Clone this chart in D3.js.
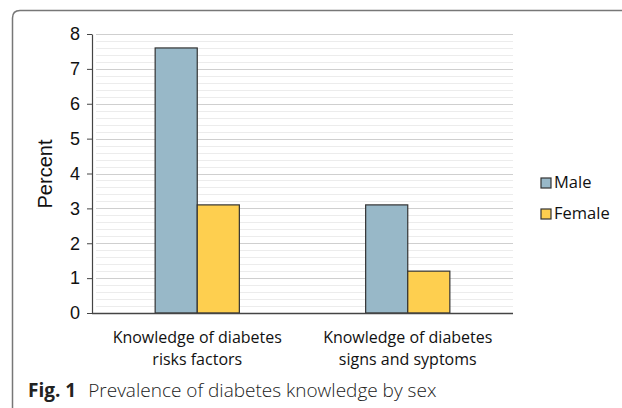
<!DOCTYPE html>
<html lang="en">
<head>
<meta charset="utf-8">
<style>
  body { margin: 0; background: #fff; }
  svg { display: block; }
</style>
</head>
<body>
<script src="https://cdn.jsdelivr.net/npm/d3@7/dist/d3.min.js"></script>
<script>

var categories = ["Knowledge of diabetes|risks factors", "Knowledge of diabetes|signs and syptoms"];
var seriesNames = ["Male", "Female"];
var maleValues = [7.6, 3.1];
var femaleValues = [3.1, 1.2];
var yTicks = [0, 1, 2, 3, 4, 5, 6, 7, 8];
var seriesColors = ["#98b8c8", "#fecf4f"];

var margin = {top: 34, right: 109, bottom: 95, left: 92},
  width = 622 - margin.left - margin.right,
  height = 408 - margin.top - margin.bottom;

var svg = d3.select("body").append("svg")
  .attr("width", 622)
  .attr("height", 408);

// frame with rounded top-left corner
svg.append("path")
  .attr("d", "M12.5,420 L12.5,18 Q12.5,10.5 20,10.5 L640,10.5")
  .attr("fill", "none")
  .attr("stroke", "#777")
  .attr("stroke-width", 1.5);

var g = svg.append("g")
  .attr("transform", "translate(" + margin.left + "," + margin.top + ")");

var x0 = d3.scaleBand()
  .domain(categories)
  .range([0, width])
  .paddingInner(0.6)
  .paddingOuter(0.3);

var x1 = d3.scaleBand()
  .domain(seriesNames)
  .range([0, x0.bandwidth()]);

var y = d3.scaleLinear().domain([0, 8]).range([height, 0]);

var color = d3.scaleOrdinal().domain(seriesNames).range(seriesColors);

// minor gridlines
g.append("g")
  .selectAll("line")
  .data(d3.range(0, 8.01, 0.2))
  .enter().append("line")
  .attr("x1", 4).attr("x2", width)
  .attr("y1", function(d) { return Math.round(y(d)) + 0.5; })
  .attr("y2", function(d) { return Math.round(y(d)) + 0.5; })
  .attr("stroke", "#ececec");

// major gridlines
g.append("g")
  .selectAll("line")
  .data(yTicks)
  .enter().append("line")
  .attr("x1", 4).attr("x2", width)
  .attr("y1", function(d) { return Math.round(y(d)) + 0.5; })
  .attr("y2", function(d) { return Math.round(y(d)) + 0.5; })
  .attr("stroke", "#cfcfcf")
  .attr("stroke-width", 1.2);

var rows = categories.map(function(c, i) {
  return {cat: c, values: [maleValues[i], femaleValues[i]]};
});

var groups = g.selectAll(".grp")
  .data(rows)
  .enter().append("g")
  .attr("class", "grp")
  .attr("transform", function(d) { return "translate(" + x0(d.cat) + ",0)"; });

groups.selectAll("rect")
  .data(function(d) { return d.values.map(function(v, i) { return {key: seriesNames[i], value: v}; }); })
  .enter().append("rect")
  .attr("x", function(d) { return x1(d.key); })
  .attr("y", function(d) { return y(d.value); })
  .attr("width", x1.bandwidth())
  .attr("height", function(d) { return height - y(d.value); })
  .attr("fill", function(d) { return color(d.key); })
  .attr("stroke", "#333")
  .attr("stroke-width", 1.2);

// y axis
var yAxis = g.append("g")
  .call(d3.axisLeft(y).tickValues(yTicks).tickSize(5).tickSizeOuter(0));
yAxis.select(".domain").attr("stroke", "#444").attr("stroke-width", 1.2);
yAxis.selectAll(".tick line").attr("stroke", "#444");
yAxis.selectAll("text")
  .attr("x", -12)
  .attr("fill", "#111")
  .style("font-family", "Liberation Sans, Arial, sans-serif")
  .style("font-size", "18px");

// x axis line
g.append("line")
  .attr("x1", 0).attr("x2", width)
  .attr("y1", height + 0.5).attr("y2", height + 0.5)
  .attr("stroke", "#444")
  .attr("stroke-width", 1.5);

// category labels
var catLabels = g.selectAll(".cat")
  .data(categories)
  .enter().append("text")
  .attr("class", "cat")
  .attr("text-anchor", "middle")
  .attr("transform", function(d) { return "translate(" + (x0(d) + x0.bandwidth() / 2) + "," + (height + 30) + ")"; })
  .style("font-family", "Open Sans, sans-serif")
  .style("font-size", "16px")
  .attr("fill", "#111");

catLabels.selectAll("tspan")
  .data(function(d) { return d.split("|"); })
  .enter().append("tspan")
  .attr("x", 0)
  .attr("dy", function(d, i) { return i === 0 ? 0 : 22; })
  .text(function(d) { return d; });

// y title
svg.append("text")
  .attr("transform", "translate(52,174) rotate(-90)")
  .attr("text-anchor", "middle")
  .style("font-family", "Liberation Sans, Arial, sans-serif")
  .style("font-size", "20px")
  .attr("fill", "#111")
  .text("Percent");

// legend
var legend = svg.selectAll(".legend")
  .data(seriesNames)
  .enter().append("g")
  .attr("class", "legend")
  .attr("transform", function(d, i) { return "translate(541," + (178 + i * 31) + ")"; });

legend.append("rect")
  .attr("width", 10)
  .attr("height", 10)
  .attr("fill", color)
  .attr("stroke", "#333")
  .attr("stroke-width", 1.2);

legend.append("text")
  .attr("x", 13)
  .attr("y", 10)
  .style("font-family", "Open Sans, sans-serif")
  .style("font-size", "16.5px")
  .attr("fill", "#111")
  .text(function(d) { return d; });

// caption
var caption = svg.append("text")
  .attr("x", 28)
  .attr("y", 397)
  .style("font-family", "Open Sans, sans-serif")
  .style("font-size", "19px")
  .attr("fill", "#222");
caption.append("tspan").style("font-weight", "bold").text("Fig. 1");
caption.append("tspan").attr("dx", 12).style("font-weight", "300").text("Prevalence of diabetes knowledge by sex");

</script>
</body>
</html>
